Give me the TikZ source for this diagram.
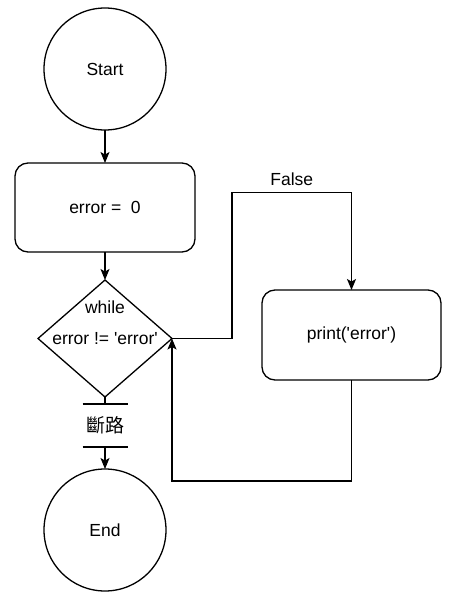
\documentclass[tikz,border=0pt]{standalone}
\usepackage{fontspec}
\setmainfont{Liberation Sans}
\newfontfamily\cjkfont{Noto Sans CJK TC}
\usetikzlibrary{shapes.geometric, arrows.meta, calc, positioning}
\tikzstyle{terminal} = [circle, minimum size=122pt, inner sep=0pt, outer sep=0pt, draw=black, line width=1.3pt]
\tikzstyle{process} = [rectangle, rounded corners=13pt, minimum width=180pt, minimum height=89pt, inner sep=0pt, outer sep=0pt, draw=black, line width=1.3pt]
\tikzstyle{decision} = [diamond, aspect=1.15, minimum width=134pt, minimum height=117pt, inner sep=0pt, outer sep=0pt, draw=black, line width=1.3pt]
\tikzstyle{arrow} = [line width=1.3pt, -{Stealth[length=11pt, width=9pt, inset=2.5pt]}]

\begin{document}
\begin{tikzpicture} [x=1pt, y=1pt, font=\fontsize{17.5}{21}\selectfont]
  \useasboundingbox (0,0) rectangle (454,-597);
  \node (start) [terminal] at (105,-69) {Start};
  \node (init) [process, below=33pt of start] {error =\ \ 0};
  \node (cond) [decision, below=28pt of init] {error != \textquotesingle error\textquotesingle};
  \node (whilelbl) [yshift=31.5pt] at (cond.center) {while};
  \node (brk) [below=7pt of cond, minimum width=45pt, minimum height=43pt, inner sep=0pt, outer sep=0pt, font=\cjkfont\fontsize{19}{22}\selectfont] {斷路};
  \node (stop) [terminal, below=22pt of brk] {End};
  \node (prt) [process, minimum width=179pt, minimum height=90pt, right=90pt of cond, yshift=3.5pt] {print(\textquotesingle error\textquotesingle)};

  \draw[arrow] (start) -- (init);
  \draw[arrow] (init) -- (cond);
  \draw[line width=1.3pt] (cond.south) -- (brk.north);
  \draw[line width=1.3pt] (brk.north west) -- (brk.north east);
  \draw[line width=1.3pt] (brk.south west) -- (brk.south east);
  \draw[arrow] (brk.south) -- (stop);
  \draw[arrow] (cond.east) -- ++(60pt,0) -- ++(0,146pt) -| node[above, pos=0.25, yshift=3pt] {False} (prt.north);
  \draw[arrow] (prt.south) -- ++(0,-101pt) -| (cond.east);
\end{tikzpicture}
\end{document}
